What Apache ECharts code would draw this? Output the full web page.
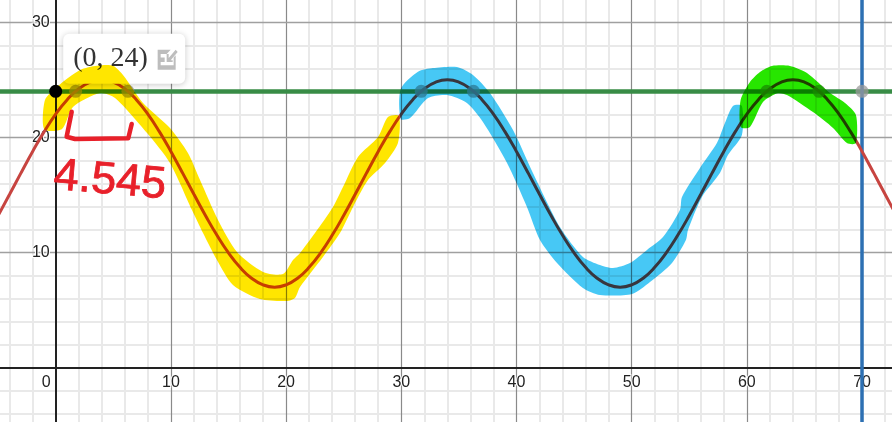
<!DOCTYPE html>
<html><head><meta charset="utf-8">
<style>html,body{margin:0;padding:0;background:#fff}#c{width:892px;height:422px}</style>
<script src="https://cdn.jsdelivr.net/npm/echarts@6/dist/echarts.min.js"></script>
</head><body><div id="c"></div>
<script>
const xMajor = [10, 20, 30, 40, 50, 60, 70];
const yMajor = [10, 20, 30];
const xMinor = [-4, -2, 2, 4, 6, 8, 12, 14, 16, 18, 22, 24, 26, 28, 32, 34, 36, 38, 42, 44, 46, 48, 52, 54, 56, 58, 62, 64, 66, 68, 72];
const yMinor = [-4, -2, 2, 4, 6, 8, 12, 14, 16, 18, 22, 24, 26, 28];
const xLabels = [0, 10, 20, 30, 40, 50, 60, 70];
const yLabels = [10, 20, 30];
const curveX = [-5,-4,-3,-2,-1,0,1,2,3,4,5,6,7,8,9,10,11,12,13,14,15,16,17,18,19,20,21,22,23,24,25,26,27,28,29,30,31,32,33,34,35,36,37,38,39,40,41,42,43,44,45,46,47,48,49,50,51,52,53,54,55,56,57,58,59,60,61,62,63,64,65,66,67,68,69,70,71,72,73];
const curveY = [13.22,15.06,16.94,18.78,20.5,22.02,23.28,24.22,24.8,25,24.8,24.22,23.28,22.02,20.5,18.78,16.94,15.06,13.22,11.5,9.98,8.72,7.78,7.2,7,7.2,7.78,8.72,9.98,11.5,13.22,15.06,16.94,18.78,20.5,22.02,23.28,24.22,24.8,25,24.8,24.22,23.28,22.02,20.5,18.78,16.94,15.06,13.22,11.5,9.98,8.72,7.78,7.2,7,7.2,7.78,8.72,9.98,11.5,13.22,15.06,16.94,18.78,20.5,22.02,23.28,24.22,24.8,25,24.8,24.22,23.28,22.02,20.5,18.78,16.94,15.06,13.22];
const hLineY = 24;
const vLineX = 70;
const crossings = [[1.73,24],[6.27,24],[31.73,24],[36.27,24],[61.73,24],[66.27,24],[70,24]];
const selected = [[0,24]];
const bracket = [[1.39,22.23],[0.95,20.06],[1.68,19.86],[6.30,19.92],[6.6,21.16]];
const handNote = [[4.71,16.2]];
const iconAt = [[9.72,26.75]];
const yellowBand = [[-0.99,20.70],[-0.93,23.25],[0.20,24.46],[2.11,25.85],[3.59,26.22],[4.97,26.22],[5.84,25.42],[7.58,22.99],[9.92,20.82],[11.48,18.65],[12.53,16.30],[14.09,12.83],[15.74,10.05],[18.0,8.32],[19.73,8.14],[20.60,9.36],[21.21,9.97],[22.51,11.70],[24.07,13.96],[24.94,15.69],[26.24,18.30],[27.98,20.03],[28.84,21.77],[29.80,21.86],[29.71,19.51],[28.59,17.78],[27.11,16.30],[25.81,13.96],[24.68,11.70],[23.20,9.62],[21.21,7.01],[20.77,6.06],[20.08,5.80],[17.73,5.97],[15.39,7.19],[14.0,9.36],[12.79,11.70],[11.83,13.70],[9.92,17.78],[7.93,20.38],[5.15,23.42],[3.85,23.85],[1.50,22.64],[0.55,20.73]];
const blueBand = [[29.95,21.60],[29.95,24.20],[31.45,25.70],[32.75,26.02],[34.83,26.11],[36.22,25.42],[37.70,23.85],[39.70,20.64],[41.43,16.91],[43.77,12.22],[45.77,9.62],[47.25,8.92],[48.38,8.66],[49.85,9.10],[51.33,10.23],[52.72,11.35],[54.19,13.70],[54.37,14.83],[55.93,17.34],[57.40,19.51],[58.10,21.25],[58.79,22.73],[59.57,22.73],[59.57,20.21],[58.36,18.47],[57.66,16.91],[56.10,14.83],[54.89,11.96],[54.71,11.09],[53.50,9.10],[51.59,7.45],[50.03,6.41],[47.25,6.32],[45.77,6.93],[43.52,9.10],[42.04,11.09],[40.91,13.96],[39.18,17.78],[37.09,21.34],[35.70,22.99],[33.97,23.68],[32.32,23.42],[30.76,21.68]];
const greenBand = [[59.46,20.90],[59.46,23.25],[60.27,24.81],[61.14,25.68],[62.18,26.20],[63.74,26.20],[65.22,25.59],[67.22,23.85],[68.52,22.99],[69.47,21.95],[69.47,19.51],[68.69,19.51],[67.48,20.82],[65.74,22.20],[63.48,23.68],[62.70,23.85],[61.40,23.07],[60.27,20.90]];

const tickFont = 'Liberation Sans';
function markSeries(key, values, color, width, z) {
  return { type: 'line', data: [], z: z, silent: true,
    markLine: { z: z, silent: true, symbol: 'none', animation: false, label: { show: false },
      lineStyle: { color: color, width: width, type: 'solid' },
      data: values.map(v => ({ [key]: v })) } };
}
function bandSeries(points, color) {
  return { type: 'custom', z: 7, silent: true, data: points, clip: true, blendMode: 'multiply',
    encode: { x: 0, y: 1 },
    renderItem: (params, api) => params.dataIndex === 0 ? {
      type: 'polygon',
      shape: { points: points.map(p => api.coord(p)), smooth: 0.25 },
      style: { fill: color }
    } : null };
}
const chart = echarts.init(document.getElementById('c'), null, { renderer: 'canvas' });
chart.setOption({
  animation: false,
  backgroundColor: '#fff',
  grid: { left: 0, right: 0, top: 0, bottom: 0, outerBoundsMode: 'none' },
  xAxis: { type: 'value', min: -4.835, max: 72.6, z: 2, position: 'bottom', offset: -54,
    axisLine: { onZero: false, lineStyle: { color: '#222', width: 2 } },
    axisTick: { show: false }, splitLine: { show: false }, minorSplitLine: { show: false },
    axisLabel: { customValues: xLabels, margin: 7, fontFamily: tickFont, fontSize: 16, color: '#222',
      showMinLabel: true, showMaxLabel: true, hideOverlap: false,
      textBorderColor: '#fff', textBorderWidth: 2,
      formatter: v => v === 0 ? '{z|0}' : String(v),
      rich: { z: { fontFamily: tickFont, fontSize: 16, color: '#222', padding: [0, 19, 0, 0], textBorderColor: '#fff', textBorderWidth: 2 } } } },
  yAxis: { type: 'value', min: -4.705, max: 31.93, z: 2, position: 'left', offset: -55.7,
    axisLine: { onZero: false, lineStyle: { color: '#222', width: 2 } },
    axisTick: { show: false }, splitLine: { show: false }, minorSplitLine: { show: false },
    axisLabel: { customValues: yLabels, margin: 6, fontFamily: tickFont, fontSize: 16, color: '#222',
      showMinLabel: true, showMaxLabel: true, hideOverlap: false,
      textBorderColor: '#fff', textBorderWidth: 2 } },
  series: [
    markSeries('xAxis', xMinor, '#e9e9e9', 2, 1),
    markSeries('yAxis', yMinor, '#e9e9e9', 2, 1),
    markSeries('xAxis', xMajor, '#8a8a8a', 1.2, 1),
    markSeries('yAxis', yMajor, '#a0a0a0', 1.4, 1),
    { type: 'line', z: 4, silent: true, data: curveX.map((x, i) => [x, curveY[i]]), smooth: true, showSymbol: false,
      lineStyle: { color: '#c74440', width: 3 } },
    markSeries('yAxis', [hLineY], '#388c46', 4.5, 4),
    markSeries('xAxis', [vLineX], '#2d70b3', 3.5, 4),
    { type: 'scatter', z: 5, silent: true, data: crossings, symbolSize: 13, itemStyle: { color: '#999', opacity: 0.75 } },
    { type: 'scatter', z: 5, silent: true, data: selected, symbolSize: 12, itemStyle: { color: 'transparent', opacity: 1 },
      label: { show: true, position: [13.5, -51.5], align: 'left', verticalAlign: 'top',
        formatter: () => '(0, 24)',
        fontFamily: 'Liberation Serif', fontSize: 28, color: '#333', width: 112, height: 50, lineHeight: 50,
        padding: [0, 0, 0, 10], backgroundColor: '#fff', borderRadius: 6,
        shadowColor: 'rgba(0,0,0,0.22)', shadowBlur: 6, shadowOffsetY: 1 } },
    { type: 'scatter', z: 6, silent: true, data: iconAt, symbolSize: 20,
      symbol: 'path://M0 2H13L9 6H3V9H7V13H3V16H16V9L18 7V20H0ZM9 12V6H11V9.5L18 2L20 4L13 11.5H15V13H9Z',
      itemStyle: { color: '#bdbdbd', opacity: 1 } },
    bandSeries(yellowBand, '#ffe600'),
    bandSeries(blueBand, '#47c8f5'),
    bandSeries(greenBand, '#27e600'),
    { type: 'line', z: 8, silent: true, data: bracket, showSymbol: false, lineStyle: { color: '#e8202a', width: 4.5, cap: 'round', join: 'round' } },
    { type: 'scatter', z: 8, silent: true, data: handNote, symbolSize: 1, itemStyle: { color: 'transparent', opacity: 1 },
      label: { show: true, position: 'inside', formatter: () => '4.545', rotate: -5,
        fontFamily: 'Liberation Sans', fontSize: 45, color: '#e8202a',
        textBorderColor: '#e8202a', textBorderWidth: 0.8 } },
    { type: 'scatter', z: 9, silent: true, data: selected, symbolSize: 13, itemStyle: { color: '#000', opacity: 1 } }
  ]
});
</script></body></html>
